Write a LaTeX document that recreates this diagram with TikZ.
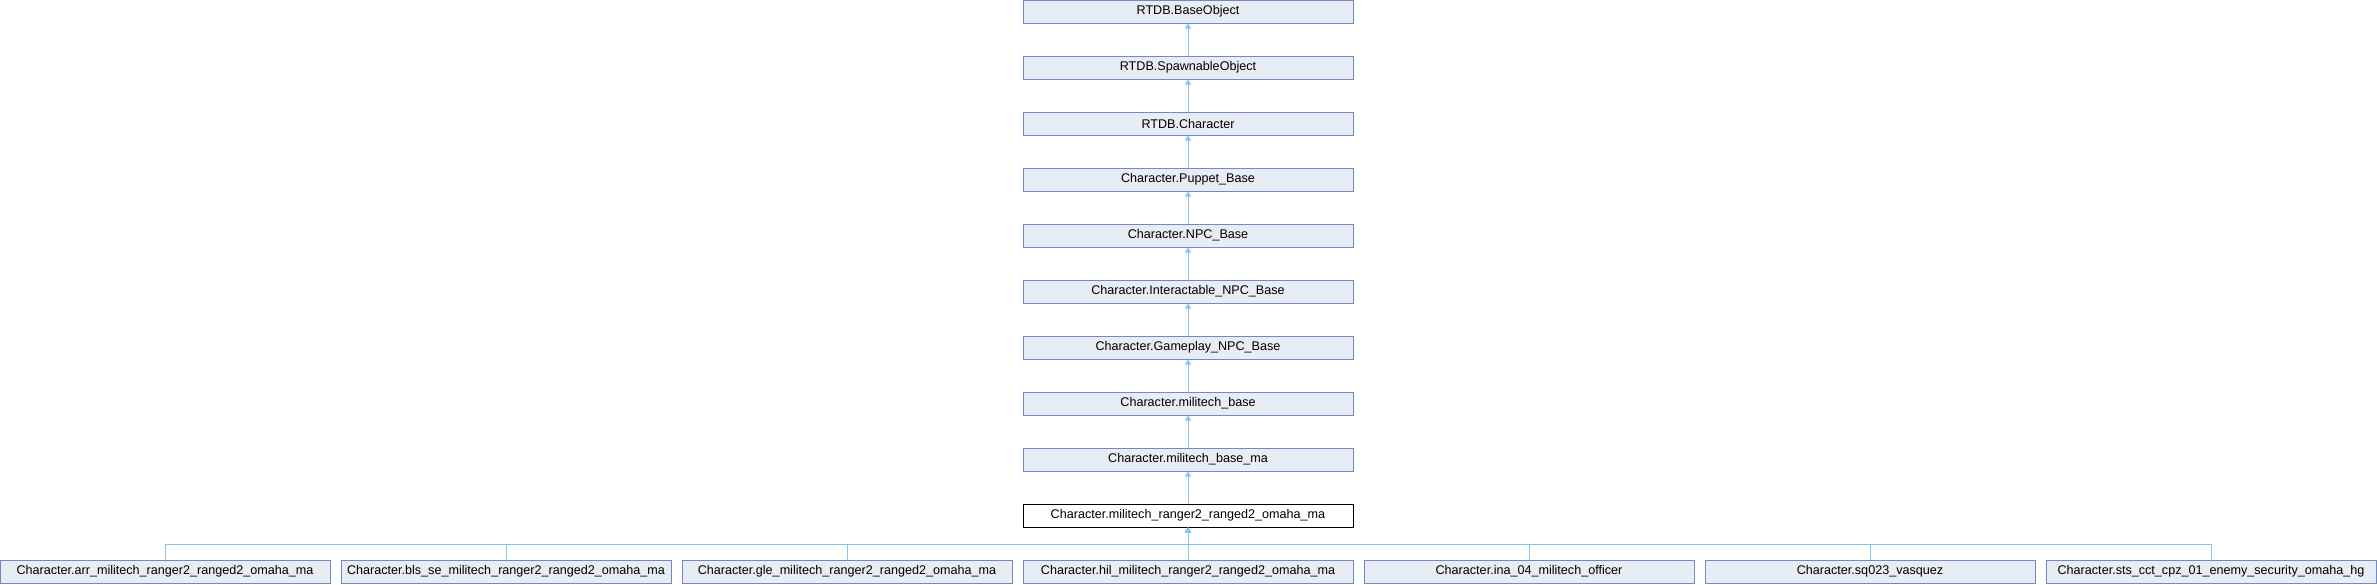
\documentclass[tikz,border=0pt]{standalone}
\usepackage{fontspec}
\setmainfont{Liberation Sans}
\usepackage{xcolor}
\usetikzlibrary{arrows.meta}
\definecolor{boxfill}{RGB}{232,236,245}
\definecolor{boxline}{RGB}{112,138,196}
\definecolor{edgeblue}{RGB}{136,196,236}

\begin{document}
\begin{tikzpicture}[x=1pt,y=1pt,
    cls/.style={draw=boxline,fill=boxfill,line width=1pt,minimum width=330pt,minimum height=23pt,
        inner sep=0pt,font=\fontsize{12.6}{14}\selectfont},
    curcls/.style={cls,draw=black,fill=white},
    inherit/.style={edgeblue,line width=1pt,-{Triangle[width=6pt,length=5pt]}}]
            \useasboundingbox (0,0) rectangle (2377,-584);

            % inheritance chain
            \node[cls] (baseobj) at (1188,-11.5){RTDB.BaseObject};
            \node[cls] (spawnobj) at (1188,-67.5){RTDB.SpawnableObject};
            \node[cls] (rtdbchar) at (1188,-123.5){RTDB.Character};
            \node[cls] (puppet) at (1188,-179.5){Character.Puppet\_Base};
            \node[cls] (npc) at (1188,-235.5){Character.NPC\_Base};
            \node[cls] (interact) at (1188,-291.5){Character.Interactable\_NPC\_Base};
            \node[cls] (gameplay) at (1188,-347.5){Character.Gameplay\_NPC\_Base};
            \node[cls] (milbase) at (1188,-403.5){Character.militech\_base};
            \node[cls] (milbasema) at (1188,-459.5){Character.militech\_base\_ma};
            \node[curcls] (ranger) at (1188,-515.5){Character.militech\_ranger2\_ranged2\_omaha\_ma};

            \draw[inherit] (spawnobj) -- (baseobj);
            \draw[inherit] (rtdbchar) -- (spawnobj);
            \draw[inherit] (puppet) -- (rtdbchar);
            \draw[inherit] (npc) -- (puppet);
            \draw[inherit] (interact) -- (npc);
            \draw[inherit] (gameplay) -- (interact);
            \draw[inherit] (milbase) -- (gameplay);
            \draw[inherit] (milbasema) -- (milbase);
            \draw[inherit] (ranger) -- (milbasema);

            % derived classes
            \node[cls] (arr) at (165,-571.5){Character.arr\_militech\_ranger2\_ranged2\_omaha\_ma};
            \node[cls] (bls) at (506,-571.5){Character.bls\_se\_militech\_ranger2\_ranged2\_omaha\_ma};
            \node[cls] (gle) at (847,-571.5){Character.gle\_militech\_ranger2\_ranged2\_omaha\_ma};
            \node[cls] (hil) at (1188,-571.5){Character.hil\_militech\_ranger2\_ranged2\_omaha\_ma};
            \node[cls] (ina) at (1529,-571.5){Character.ina\_04\_militech\_officer};
            \node[cls] (sq) at (1870,-571.5){Character.sq023\_vasquez};
            \node[cls] (sts) at (2211,-571.5){Character.sts\_cct\_cpz\_01\_enemy\_security\_omaha\_hg};

            \coordinate (bus) at (1188,-544);
            \foreach \c in {arr,bls,gle,hil,ina,sq,sts}
                \draw[inherit] (\c.north) |- (bus) -- (ranger.south);
\end{tikzpicture}
\end{document}
